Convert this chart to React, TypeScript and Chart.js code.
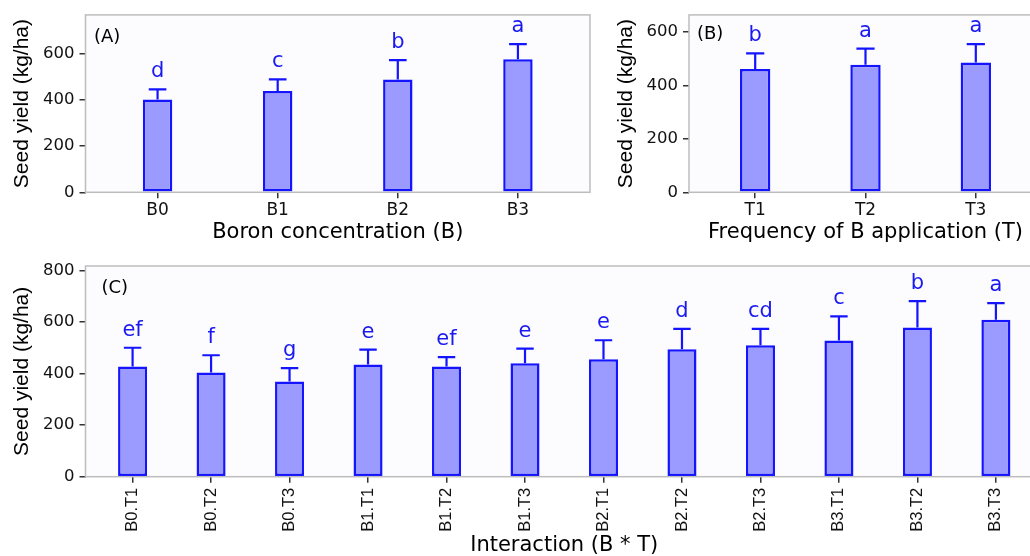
import React, { useEffect, useRef } from 'react';
import { Chart, registerables } from 'chart.js';

Chart.register(...registerables);

// ---------- Data ----------
// Panel (A): Boron concentration
const boronLabels = ['B0', 'B1', 'B2', 'B3'];
const boronMeans = [401, 437, 487, 574];
const boronSD = [43, 51, 84, 66];
const boronLetters = ['d', 'c', 'b', 'a'];
const boronTicks = [0, 200, 400, 600];

// Panel (B): Frequency of B application
const freqLabels = ['T1', 'T2', 'T3'];
const freqMeans = [461, 477, 485];
const freqSD = [58, 60, 69];
const freqLetters = ['b', 'a', 'a'];
const freqTicks = [0, 200, 400, 600];

// Panel (C): Interaction
const interLabels = ['B0.T1', 'B0.T2', 'B0.T3', 'B1.T1', 'B1.T2', 'B1.T3', 'B2.T1', 'B2.T2', 'B2.T3', 'B3.T1', 'B3.T2', 'B3.T3'];
const interMeans = [427, 404, 369, 435, 427, 440, 455, 494, 510, 528, 579, 609];
const interSD = [73, 67, 52, 58, 37, 57, 74, 79, 63, 94, 102, 64];
const interLetters = ['ef', 'f', 'g', 'e', 'ef', 'e', 'e', 'd', 'cd', 'c', 'b', 'a'];
const interTicks = [0, 200, 400, 600, 800];

const Y_TITLE = 'Seed yield (kg/ha)';

// ---------- Styles ----------
const BAR_FILL = '#9b9bff';
const BAR_EDGE = '#1414ff';
const LETTER_COLOR = '#1a1af0';
const PANEL_BG = '#fcfcff';
const FRAME = '#bdbdbd';
const TICK_MARK = '#333333';
const TEXT = '#111111';

interface PanelSpec {
  tag: string;
  labels: string[];
  means: number[];
  sd: number[];
  letters: string[];
  yTicks: number[];
  yMax: number;
  xTitle: string;
  left: number;
  top: number;
  width: number;
  height: number;
  padTop: number;
  padRight: number;
  yAxisWidth: number;
  xAxisHeight: number;
  yTitlePad: number;
  xTitlePad: number;
  barPct: number;
  rotate: number;
  xTickPad: number;
  tagDx: number;
  tagDy: number;
}

const panels: PanelSpec[] = [
  {
    tag: '(A)', labels: boronLabels, means: boronMeans, sd: boronSD, letters: boronLetters,
    yTicks: boronTicks, yMax: 766, xTitle: 'Boron concentration (B)',
    left: 0, top: 0, width: 600, height: 250, padTop: 14, padRight: 10,
    yAxisWidth: 85.5, xAxisHeight: 57.7, yTitlePad: 11.5, xTitlePad: 7,
    barPct: 0.245, rotate: 0, xTickPad: 2, tagDx: 8.5, tagDy: 22.5,
  },
  {
    tag: '(B)', labels: freqLabels, means: freqMeans, sd: freqSD, letters: freqLetters,
    yTicks: freqTicks, yMax: 663, xTitle: 'Frequency of B application (T)',
    left: 600, top: 0, width: 450, height: 250, padTop: 14, padRight: 8,
    yAxisWidth: 89, xAxisHeight: 57.7, yTitlePad: 15.5, xTitlePad: 7,
    barPct: 0.275, rotate: 0, xTickPad: 2, tagDx: 8, tagDy: 19.5,
  },
  {
    tag: '(C)', labels: interLabels, means: interMeans, sd: interSD, letters: interLetters,
    yTicks: interTicks, yMax: 817, xTitle: 'Interaction (B * T)',
    left: 0, top: 250, width: 1052, height: 320, padTop: 16, padRight: 9,
    yAxisWidth: 85.5, xAxisHeight: 93.3, yTitlePad: 12, xTitlePad: 13.5,
    barPct: 0.37, rotate: 90, xTickPad: 5, tagDx: 16, tagDy: 22.3,
  },
];

function panelPlugin(spec: PanelSpec) {
  return {
    id: 'panelDecor' + spec.tag,
    beforeDraw(chart: any) {
      const { ctx, chartArea: a } = chart;
      ctx.save();
      ctx.fillStyle = PANEL_BG;
      ctx.fillRect(a.left, a.top, a.right - a.left, a.bottom - a.top);
      ctx.restore();
    },
    afterDatasetsDraw(chart: any) {
      const { ctx } = chart;
      const yScale = chart.scales.y;
      const meta = chart.getDatasetMeta(0);
      ctx.save();
      meta.data.forEach((bar: any, i: number) => {
        const x = bar.x;
        const yBar = yScale.getPixelForValue(spec.means[i]);
        const yTop = yScale.getPixelForValue(spec.means[i] + spec.sd[i]);
        const cw = bar.width * 0.6;
        ctx.strokeStyle = BAR_EDGE;
        ctx.lineWidth = 2.2;
        ctx.beginPath();
        ctx.moveTo(x, yBar);
        ctx.lineTo(x, yTop);
        ctx.moveTo(x - cw / 2, yTop);
        ctx.lineTo(x + cw / 2, yTop);
        ctx.stroke();
        ctx.fillStyle = LETTER_COLOR;
        ctx.font = '21px "DejaVu Sans"';
        ctx.textAlign = 'center';
        ctx.textBaseline = 'alphabetic';
        ctx.fillText(spec.letters[i], x, yTop - 12);
      });
      ctx.restore();
    },
    afterDraw(chart: any) {
      const { ctx, chartArea: a } = chart;
      ctx.save();
      ctx.strokeStyle = FRAME;
      ctx.lineWidth = 1.5;
      ctx.strokeRect(a.left, a.top, a.right - a.left, a.bottom - a.top);
      ctx.fillStyle = '#000';
      ctx.font = '18px "DejaVu Sans"';
      ctx.textAlign = 'left';
      ctx.textBaseline = 'middle';
      ctx.fillText(spec.tag, a.left + spec.tagDx, a.top + spec.tagDy);
      ctx.restore();
    },
  };
}

function Panel({ spec }: { spec: PanelSpec }) {
  const ref = useRef<HTMLCanvasElement>(null);
  useEffect(() => {
    if (!ref.current) return;
    const labels = spec.labels;
    const chart = new Chart(ref.current, {
      type: 'bar',
      data: {
        datasets: [
          {
            data: spec.means.map((y, i) => ({ x: i, y })),
            backgroundColor: BAR_FILL,
            borderColor: BAR_EDGE,
            borderWidth: 2.5,
            borderSkipped: false,
            barPercentage: spec.barPct,
            categoryPercentage: 1,
          } as any,
        ],
      },
      options: {
        responsive: false,
        animation: false,
        devicePixelRatio: 1,
        layout: { padding: { top: spec.padTop, right: spec.padRight, left: 0, bottom: 0 } },
        plugins: { legend: { display: false }, tooltip: { enabled: false } },
        scales: {
          x: {
            type: 'linear',
            offset: false,
            min: -0.6,
            max: labels.length - 0.4,
            afterBuildTicks: (s: any) => {
              s.ticks = labels.map((_, i) => ({ value: i }));
            },
            afterFit: (s: any) => {
              s.height = spec.xAxisHeight;
            },
            ticks: {
              autoSkip: false,
              maxRotation: spec.rotate,
              minRotation: spec.rotate,
              padding: spec.xTickPad,
              color: TEXT,
              font: spec.rotate
                ? { family: 'Liberation Sans', size: 16.5 }
                : { family: 'DejaVu Sans', size: 17 },
              callback: (v: any) => labels[v as number],
            },
            grid: {
              offset: false,
              drawOnChartArea: false,
              drawTicks: true,
              tickLength: 6,
              color: TICK_MARK,
              lineWidth: 1.5,
            },
            border: { display: false },
            title: {
              display: true,
              text: spec.xTitle,
              color: '#000',
              font: { family: 'DejaVu Sans', size: 21, lineHeight: 1 },
              padding: { top: 0, bottom: spec.xTitlePad },
            },
          },
          y: {
            min: 0,
            max: spec.yMax,
            afterBuildTicks: (s: any) => {
              s.ticks = spec.yTicks.map((v) => ({ value: v }));
            },
            afterFit: (s: any) => {
              s.width = spec.yAxisWidth;
            },
            ticks: {
              padding: 5,
              color: TEXT,
              font: { family: 'DejaVu Sans', size: 16.5 },
            },
            grid: {
              drawOnChartArea: false,
              drawTicks: true,
              tickLength: 6,
              color: TICK_MARK,
              lineWidth: 1.5,
            },
            border: { display: false },
            title: {
              display: true,
              text: Y_TITLE,
              color: '#000',
              font: { family: 'Liberation Sans', size: 21, lineHeight: 1 },
              padding: { top: spec.yTitlePad, bottom: 0 },
            },
          },
        },
      } as any,
      plugins: [panelPlugin(spec)],
    });
    return () => chart.destroy();
  }, [spec]);
  return (
    <canvas
      ref={ref}
      width={spec.width}
      height={spec.height}
      style={{ position: 'absolute', left: spec.left, top: spec.top, width: spec.width, height: spec.height }}
    />
  );
}

export default function App() {
  return (
    <div
      style={{
        position: 'fixed',
        left: 0,
        top: 0,
        width: 1030,
        height: 556,
        overflow: 'hidden',
        background: '#ffffff',
      }}
    >
      {panels.map((p) => (
        <Panel key={p.tag} spec={p} />
      ))}
    </div>
  );
}
